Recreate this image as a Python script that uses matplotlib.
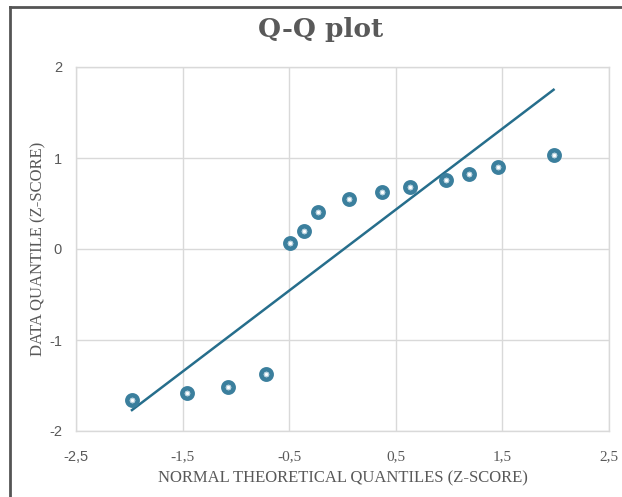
import matplotlib
matplotlib.use("Agg")
import matplotlib.pyplot as plt
from matplotlib.lines import Line2D

theoretical = [-1.97, -1.46, -1.07, -0.72, -0.49, -0.36, -0.23, 0.06, 0.37, 0.63, 0.97, 1.19, 1.46, 1.98]
data_q = [-1.66, -1.58, -1.52, -1.37, 0.07, 0.20, 0.41, 0.55, 0.63, 0.68, 0.76, 0.82, 0.90, 1.03]
line_x = [-1.975, 1.98]
line_y = [-1.77, 1.75]
xticks = [-2.5, -1.5, -0.5, 0.5, 1.5, 2.5]
yticks = [-2, -1, 0, 1, 2]

W, H = 622, 497
fig = plt.figure(figsize=(W / 100, H / 100), dpi=100)
fig.patch.set_facecolor("white")

ax = fig.add_axes([76 / W, 1 - 431 / H, (609 - 76) / W, (431 - 67) / H])
ax.set_xlim(-2.5, 2.5)
ax.set_ylim(-2, 2)

ax.plot(line_x, line_y, color="#266e8c", lw=1.8, zorder=2)
ax.plot(theoretical, data_q, ls="none", marker="o", ms=7.4, mfc="white",
        mec="#3b7f9d", mew=3.3, zorder=3)
ax.plot(theoretical, data_q, ls="none", marker="o", ms=3.0, mfc="white",
        mec="#a9c9d8", mew=0.6, zorder=4)

ax.set_xticks(xticks)
ax.set_yticks(yticks)
ax.set_xticklabels([f"{v:g}".replace(".", ",") for v in xticks])
ax.set_yticklabels([str(v) for v in yticks])
ax.grid(True, color="#d9d9d9", lw=1)
ax.set_axisbelow(True)
for s in ax.spines.values():
    s.set_color("#d9d9d9")
    s.set_linewidth(1)
ax.tick_params(length=0, colors="#595959", labelsize=10.5)
for lbl in ax.get_xticklabels():
    lbl.set_fontfamily("Liberation Serif")
    lbl.set_fontsize(11)
ax.get_xticklabels()[0].set_fontfamily("Liberation Sans")
ax.get_xticklabels()[0].set_fontsize(10.5)
for lbl in ax.get_yticklabels():
    lbl.set_fontfamily("Liberation Sans")
ax.tick_params(axis="x", pad=14)
ax.tick_params(axis="y", pad=10)

ax.set_xlabel("NORMAL THEORETICAL QUANTILES (Z-SCORE)", family="Liberation Serif",
              fontsize=12, color="#595959", labelpad=4)
ax.set_ylabel("DATA QUANTILE (Z-SCORE)", family="Liberation Serif",
              fontsize=12, color="#595959", labelpad=2)

fig.text(321 / W, 1 - 30 / H, "Q-Q plot", ha="center", va="center",
         family="DejaVu Serif", fontweight="bold", fontsize=19, color="#595959")

fig.add_artist(Line2D([10 / W, 1], [1 - 7 / H, 1 - 7 / H], color="#555555", lw=2,
                      transform=fig.transFigure))
fig.add_artist(Line2D([10 / W, 10 / W], [0, 1 - 7 / H], color="#555555", lw=2,
                      transform=fig.transFigure))

fig.savefig("out.png", dpi=100)
